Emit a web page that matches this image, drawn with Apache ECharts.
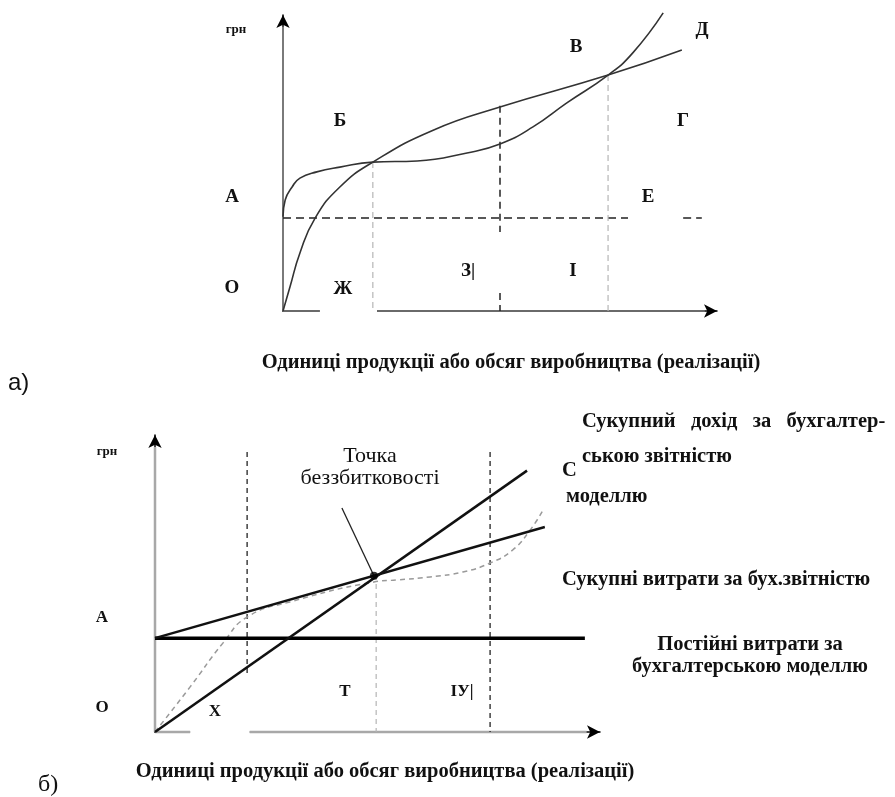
<!DOCTYPE html>
<html>
<head>
<meta charset="utf-8">
<script src="https://cdn.jsdelivr.net/npm/echarts@6/dist/echarts.min.js"></script>
<style>html,body{margin:0;padding:0;background:#fff}#c{width:895px;height:797px}</style>
</head>
<body>
<div id="c"></div>
<script>
// ---------- Chart (a) data ----------
const aRevenue = [[0,0],[1.6,8.1],[3.9,19.6],[7.4,31.4],[13.1,41.9],[20.7,50.3],[34.6,61.1],[50,68.9],[74.9,79.7],[91.9,88.2]];
const aCost = [[0,31.8],[0.5,37.5],[2.1,41.9],[3.9,44.9],[7.8,47.0],[13.1,48.6],[20.7,50.3],[30.9,50.7],[42.4,53.4],[50,56.4],[57.6,62.2],[65.4,70.3],[74.9,79.7],[80.6,87.2],[87.6,100.7]];
const aFixed1 = [[0,31.4],[79.5,31.4]];
const aFixed2 = [[92.2,31.4],[96.5,31.4]];
const aV1 = [[20.7,50.3],[20.7,0]];
const aV2top = [[50,69.3],[50,26.7]];
const aV2bot = [[50,6.1],[50,0]];
const aV3 = [[74.9,79.7],[74.9,0]];
const aXShaft1 = [[0,0],[8.5,0]];
const aXGap = [[8.5,0],[21.7,0]];
const aXShaft2 = [[21.7,0],[97.2,0]];
const aYShaft = [[0,0],[0,96]];

// ---------- Chart (b) data ----------
const bRevenue = [[0,0],[83.6,88]];
const bFixed = [[0,31.6],[96.6,31.6]];
const bTotalCost = [[0,31.6],[87.6,69.0]];
const bCubic = [[0,0],[7.9,15.2],[15.3,30.0],[20.7,38.7],[30.3,43.8],[49.2,50.5],[54.4,51.2],[61.8,52.2],[69.2,53.9],[75.3,56.9],[80.4,61.3],[84.3,68.0],[87.2,74.7]];
const bV1 = [[20.7,94.3],[20.7,18.5]];
const bV2 = [[75.3,94.3],[75.3,0]];
const bV3 = [[49.7,52.9],[49.7,0]];
const bPointer = [[42.0,75.4],[49.2,52.6]];
const bBep = [[49.2,52.6]];
const bXShaft1 = [[0,0],[7.9,0]];
const bXGap = [[7.9,0],[21.3,0]];
const bXShaft2 = [[21.3,0],[97,0]];
const bYShaft = [[0,0],[0,96]];

const SERIF = '"Liberation Serif", "Times New Roman", serif';

function seg(data, idx, color, width, type, smooth, z) {
  return {
    type: 'line', data: data, xAxisIndex: idx, yAxisIndex: idx,
    showSymbol: false, symbol: 'none', clip: false, silent: true,
    smooth: smooth || false,
    lineStyle: { color: color, width: width, type: type || 'solid', cap: 'butt' },
    z: z || 2, animation: false
  };
}

function txt(text, x, y, font, align) {
  return {
    type: 'text', x: x, y: y, silent: true, z: 100,
    style: {
      text: text, fill: '#111', font: font,
      align: align || 'center', verticalAlign: 'middle',
      textAlign: align || 'center', textVerticalAlign: 'middle'
    }
  };
}

function axisDef(idx) {
  return { type: 'value', gridIndex: idx, min: 0, max: 100,
    axisLine: { show: true, onZero: false, symbol: ['none','arrow'], symbolSize: [10,13], lineStyle: { color: '#000', width: 1.5 } },
    axisTick: { show: false }, axisLabel: { show: false }, splitLine: { show: false } };
}

const bigA = 'bold 19px ' + SERIF;
const bigB = 'bold 17px ' + SERIF;
const body = 'bold 20.5px ' + SERIF;
const small = 'bold 13px ' + SERIF;
const reg = '22px ' + SERIF;

const option = {
  backgroundColor: '#fff',
  animation: false,
  grid: [
    { left: 283, top: 15, width: 434, height: 296 },
    { left: 155, top: 435, width: 445, height: 297 }
  ],
  xAxis: [axisDef(0), axisDef(1)],
  yAxis: [axisDef(0), axisDef(1)],
  series: [
    // chart a axes shafts
    seg(aXShaft1, 0, '#6a6a6a', 2),
    seg(aXGap, 0, '#ffffff', 3),
    seg(aXShaft2, 0, '#6a6a6a', 2),
    seg(aYShaft, 0, '#7a7a7a', 2),
    // chart a guide lines
    seg(aFixed1, 0, '#222', 1.5, [8,5]),
    seg(aFixed2, 0, '#222', 1.5, [8,5]),
    seg(aV1, 0, '#b5b5b5', 1.2, [6,4]),
    seg(aV2top, 0, '#222', 1.5, [7,5]),
    seg(aV2bot, 0, '#222', 1.5, [7,5]),
    seg(aV3, 0, '#b5b5b5', 1.2, [6,4]),
    // chart a curves
    seg(aRevenue, 0, '#333', 1.6, 'solid', 0.5, 5),
    seg(aCost, 0, '#333', 1.6, 'solid', 0.5, 5),
    // chart b axes shafts
    seg(bXShaft1, 1, '#a8a8a8', 2.5),
    seg(bXGap, 1, '#ffffff', 3.5),
    seg(bXShaft2, 1, '#a8a8a8', 2.5),
    seg(bYShaft, 1, '#a8a8a8', 2.5),
    // chart b guide lines
    seg(bV1, 1, '#222', 1.3, [5,4]),
    seg(bV2, 1, '#222', 1.3, [5,4]),
    seg(bV3, 1, '#b5b5b5', 1.2, [5,4]),
    seg(bCubic, 1, '#9a9a9a', 1.5, [5,4], 0.5, 4),
    seg(bFixed, 1, '#000', 3.5, 'solid', false, 6),
    seg(bTotalCost, 1, '#111', 2.5, 'solid', false, 6),
    seg(bRevenue, 1, '#111', 2.5, 'solid', false, 6),
    seg(bPointer, 1, '#222', 1.3, 'solid', false, 6),
    { type: 'scatter', xAxisIndex: 1, yAxisIndex: 1, data: bBep, symbolSize: 8, itemStyle: { color: '#000' }, silent: true, z: 7, animation: false }
  ],
  graphic: [
    // chart a labels
    txt('грн', 236, 30, small),
    txt('А', 232, 197, bigA),
    txt('О', 232, 288, bigA),
    txt('Б', 340, 121, bigA),
    txt('В', 576, 47, bigA),
    txt('Д', 702, 30, bigA),
    txt('Г', 683, 121, bigA),
    txt('Е', 648, 197, bigA),
    txt('Ж', 343, 289, bigA),
    txt('З|', 468, 271, bigA),
    txt('І', 573, 271, bigA),
    txt('Одиниці продукції або обсяг виробництва (реалізації)', 511, 363, body),
    txt('а)', 8, 383, '24px "Liberation Sans", Arial, sans-serif', 'left'),
    // chart b labels
    txt('грн', 107, 452, small),
    txt('А', 102, 618, bigB),
    txt('О', 102, 708, bigB),
    txt('Х', 215, 712, bigB),
    txt('Т', 345, 692, bigB),
    txt('ІУ|', 462, 692, bigB),
    txt('Точка', 370, 456, reg),
    txt('беззбитковості', 370, 478, reg),
    txt('Сукупний   дохід   за   бухгалтер-', 582, 422, body, 'left'),
    txt('ською звітністю', 582, 457, body, 'left'),
    txt('С', 562, 471, body, 'left'),
    txt('моделлю', 566, 497, body, 'left'),
    txt('Сукупні витрати за бух.звітністю', 562, 580, body, 'left'),
    txt('Постійні витрати за', 750, 645, body),
    txt('бухгалтерською моделлю', 750, 667, body),
    txt('Одиниці продукції або обсяг виробництва (реалізації)', 385, 772, body),
    txt('б)', 38, 785, '24px ' + SERIF, 'left')
  ]
};

const chart = echarts.init(document.getElementById('c'), null, { renderer: 'canvas' });
chart.setOption(option);
</script>
</body>
</html>
